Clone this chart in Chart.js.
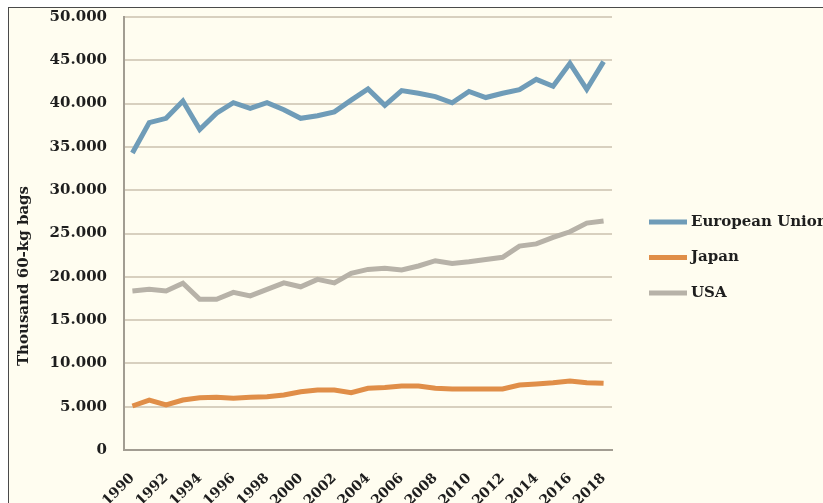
<!DOCTYPE html>
<html>
<head>
<meta charset="utf-8">
<script src="https://cdn.jsdelivr.net/npm/chart.js@4.4.1/dist/chart.umd.min.js"></script>
<style>
  html, body { margin: 0; padding: 0; width: 823px; height: 503px; overflow: hidden; background: #ffffff; }
  #frame { position: absolute; left: 8px; top: 7px; width: 900px; height: 600px;
           background: #fffdf0; border-left: 1.5px solid #4a4a4a; border-top: 1.5px solid #4a4a4a; }
  #wrap { position: absolute; left: 0; top: 0; width: 823px; height: 503px; }
</style>
</head>
<body>
<div id="frame"></div>
<div id="wrap"><canvas id="chart"></canvas></div>
<script>
// Coffee imports, thousand 60-kg bags
const years = ['1990','1991','1992','1993','1994','1995','1996','1997','1998','1999',
               '2000','2001','2002','2003','2004','2005','2006','2007','2008','2009',
               '2010','2011','2012','2013','2014','2015','2016','2017','2018'];

const europeanUnion = [34300, 37800, 38300, 40300, 37000, 38900, 40100, 39450, 40100, 39300,
                       38300, 38600, 39050, 40400, 41700, 39800, 41500, 41200, 40800, 40100,
                       41400, 40700, 41200, 41600, 42800, 42000, 44650, 41650, 44850];

const japan = [5080, 5770, 5200, 5770, 6040, 6080, 5970, 6080, 6160, 6350,
               6730, 6930, 6930, 6620, 7120, 7230, 7390, 7390, 7120, 7040,
               7040, 7040, 7040, 7500, 7620, 7770, 7970, 7770, 7700];

const usa = [18360, 18550, 18360, 19250, 17400, 17400, 18200, 17800, 18550, 19300,
             18850, 19700, 19300, 20400, 20850, 20980, 20800, 21250, 21860, 21550,
             21750, 22000, 22250, 23550, 23800, 24550, 25200, 26200, 26450];

const seriesNames = ['European Union', 'Japan', 'USA'];
const seriesColors = ['#6f9cb8', '#e08e48', '#b7b2a8'];

const yMin = 0, yMax = 50000, yStep = 5000;
const yTitle = 'Thousand 60-kg bags';

const serif = "'DejaVu Serif', 'Liberation Serif', serif";
const inkColor = '#1e1e1e';

// rotated axis title on the left
const axisTitlePlugin = {
  id: 'axisTitle',
  afterDraw(chart) {
    const ctx = chart.ctx;
    ctx.save();
    ctx.translate(24, 276);
    ctx.rotate(-Math.PI / 2);
    ctx.font = 'bold 15px ' + serif;
    ctx.fillStyle = inkColor;
    ctx.textAlign = 'center';
    ctx.textBaseline = 'middle';
    ctx.fillText(yTitle, 0, 0);
    ctx.restore();
  }
};

// legend to the right of the plot: thick line swatch followed by the series name
const sideLegendPlugin = {
  id: 'sideLegend',
  afterDraw(chart) {
    const ctx = chart.ctx;
    const area = chart.chartArea;
    const x0 = area.right + 37;
    let y = 222;
    ctx.save();
    ctx.font = 'bold 15px ' + serif;
    ctx.textBaseline = 'middle';
    ctx.textAlign = 'left';
    chart.data.datasets.forEach(ds => {
      ctx.strokeStyle = ds.borderColor;
      ctx.lineWidth = 5;
      ctx.beginPath();
      ctx.moveTo(x0, y);
      ctx.lineTo(x0 + 38, y);
      ctx.stroke();
      ctx.fillStyle = inkColor;
      ctx.fillText(ds.label, x0 + 42, y);
      y += 35.5;
    });
    ctx.restore();
  }
};

const datasets = [europeanUnion, japan, usa].map((values, i) => ({
  label: seriesNames[i],
  data: values,
  borderColor: seriesColors[i],
  backgroundColor: seriesColors[i],
  borderWidth: 5,
  pointRadius: 0,
  pointHoverRadius: 0,
  tension: 0,
  fill: false
}));

new Chart(document.getElementById('chart'), {
  type: 'line',
  data: { labels: years, datasets },
  options: {
    responsive: true,
    maintainAspectRatio: false,
    animation: false,
    layout: { padding: { left: 0, right: 211, top: 17, bottom: 0 } },
    plugins: {
      legend: { display: false },
      tooltip: { enabled: false }
    },
    scales: {
      x: {
        offset: true,
        grid: { display: false, drawTicks: false },
        border: { display: true, color: '#a29d92', width: 2 },
        ticks: {
          autoSkip: false,
          minRotation: 45,
          maxRotation: 45,
          padding: 20,
          color: inkColor,
          font: { family: serif, size: 14, weight: 'bold' },
          callback: function (value, index) {
            return index % 2 === 0 ? this.getLabelForValue(value) : '';
          }
        },
        afterFit(scale) { scale.height = 53; }
      },
      y: {
        min: yMin,
        max: yMax,
        grid: { color: '#d8d0bf', lineWidth: 2, drawTicks: false },
        border: { display: true, color: '#a29d92', width: 2 },
        ticks: {
          stepSize: yStep,
          padding: 17,
          color: inkColor,
          font: { family: serif, size: 15, weight: 'bold' },
          callback: (v) => v === 0 ? '0' : (v / 1000).toFixed(3)
        },
        afterFit(scale) {
          scale.width = 124;
          scale.paddingTop = 0;
          scale.paddingBottom = 0;
        }
      }
    }
  },
  plugins: [axisTitlePlugin, sideLegendPlugin]
});
</script>
</body>
</html>
